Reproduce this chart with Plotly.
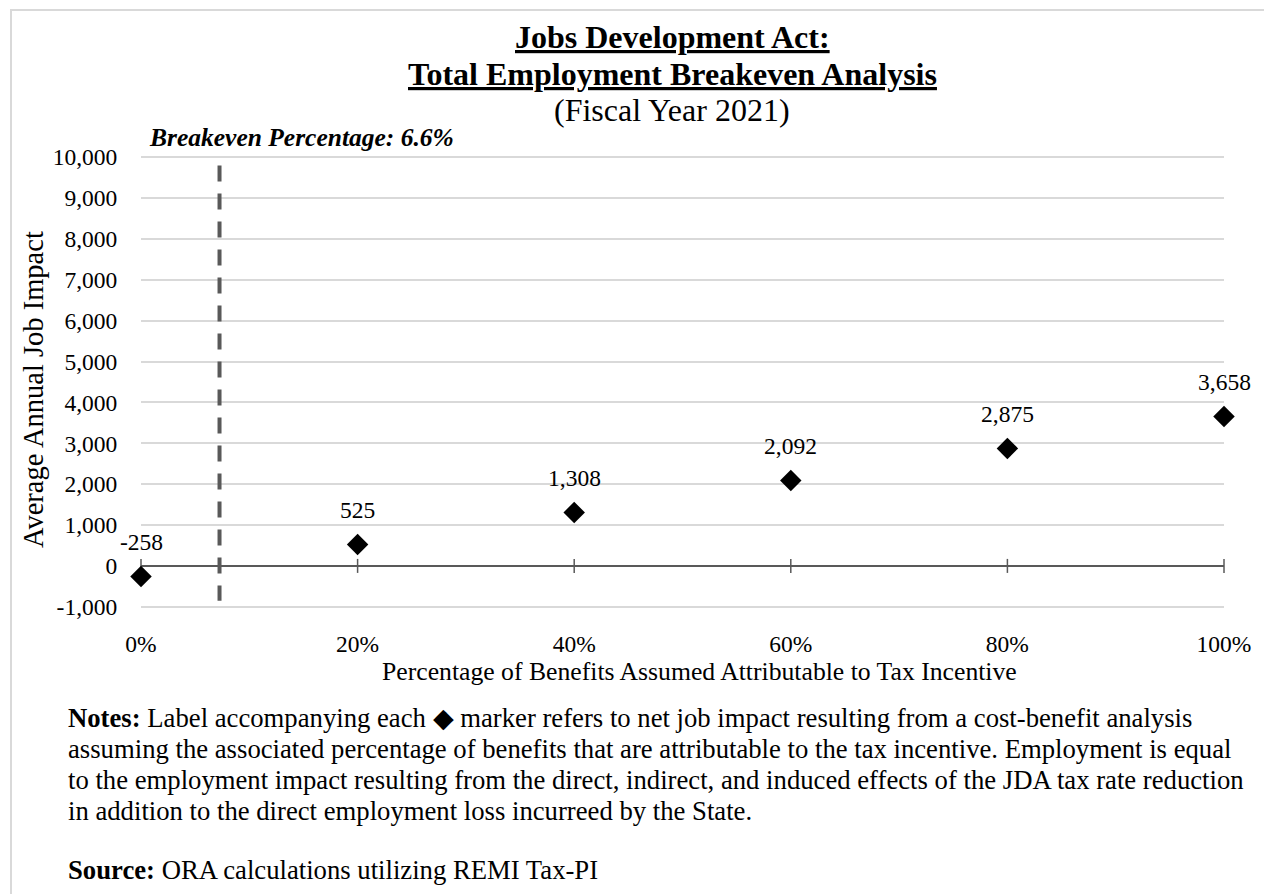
import plotly.graph_objects as go

# ---- data ----
pct_benefits = [0.0, 0.2, 0.4, 0.6, 0.8, 1.0]
job_impact = [-258, 525, 1308, 2092, 2875, 3658]
breakeven_x = 0.0725
breakeven_line_y = [9800, -850]
y_ticks = list(range(-1000, 10001, 1000))
y_ticklabels = [f"{v:,}" for v in y_ticks]
x_ticks = [0.0, 0.2, 0.4, 0.6, 0.8, 1.0]
x_ticklabels = ["0%", "20%", "40%", "60%", "80%", "100%"]

title_lines = ["<b><u>Jobs Development Act:</u></b>",
               "<b><u>Total Employment Breakeven Analysis</u></b>",
               "(Fiscal Year 2021)"]
breakeven_label = "<b><i>Breakeven Percentage: 6.6%</i></b>"
x_title = "Percentage of Benefits Assumed Attributable to Tax Incentive"
y_title = "Average Annual Job Impact"
note_lines = [
    "<b>Notes:</b> Label accompanying each \u25C6 marker refers to net job impact resulting from a cost-benefit analysis",
    "assuming the associated percentage of benefits that are attributable to the tax incentive. Employment is equal",
    "to the employment impact resulting from the direct, indirect, and induced effects of the JDA tax rate reduction",
    "in addition to the direct employment loss incurreed by the State.",
]
source_line = "<b>Source:</b> ORA calculations utilizing REMI Tax-PI"

FONT = "Liberation Serif, Times New Roman, serif"
W, H = 1264, 894
L, R, T, B = 141, 40, 156, 286
pw, ph = W - L - R, H - T - B


def px(x):
    return (x - L) / pw


def py(y):
    return (H - B - y) / ph


fig = go.Figure()

# breakeven dashed line
fig.add_trace(go.Scatter(
    x=[breakeven_x, breakeven_x], y=breakeven_line_y, mode="lines",
    line=dict(color="#595959", width=4, dash="16px,12px"), hoverinfo="skip"))

# tick marks crossing the zero line
fig.add_trace(go.Scatter(
    x=x_ticks, y=[0] * len(x_ticks), mode="markers", cliponaxis=False,
    marker=dict(symbol="line-ns-open", size=10, color="#595959",
                line=dict(color="#595959", width=1.5)),
    hoverinfo="skip"))

# data markers
fig.add_trace(go.Scatter(
    x=pct_benefits, y=job_impact, mode="markers", cliponaxis=False,
    marker=dict(symbol="diamond", size=16.5, color="black", line=dict(width=0))))

annotations = []
for xv, yv in zip(pct_benefits, job_impact):
    annotations.append(dict(x=xv, y=yv, xref="x", yref="y", text=f"{yv:,}",
                            showarrow=False, yshift=34, xanchor="center", yanchor="middle",
                            font=dict(family=FONT, size=23.5, color="black")))

title_y = [37, 74, 110]
for txt, yy in zip(title_lines, title_y):
    annotations.append(dict(x=px(672), y=py(yy), xref="paper", yref="paper", text=txt,
                            showarrow=False, xanchor="center", yanchor="middle",
                            font=dict(family=FONT, size=32, color="black")))

annotations.append(dict(x=px(147), y=py(137), xref="paper", yref="paper", text=breakeven_label,
                        showarrow=False, xanchor="left", yanchor="middle",
                        font=dict(family=FONT, size=25.5, color="black")))

note_y = [718, 749, 780, 811]
for txt, yy in zip(note_lines, note_y):
    annotations.append(dict(x=px(66), y=py(yy), xref="paper", yref="paper", text=txt,
                            showarrow=False, xanchor="left", yanchor="middle",
                            font=dict(family=FONT, size=26.7, color="black")))
annotations.append(dict(x=px(66), y=py(870), xref="paper", yref="paper", text=source_line,
                        showarrow=False, xanchor="left", yanchor="middle",
                        font=dict(family=FONT, size=26.7, color="black")))

# axis titles as annotations for precise placement
annotations.append(dict(x=px(699), y=py(671), xref="paper", yref="paper", text=x_title,
                        showarrow=False, xanchor="center", yanchor="middle",
                        font=dict(family=FONT, size=25.7, color="black")))
annotations.append(dict(x=px(33), y=py(390), xref="paper", yref="paper", text=y_title,
                        showarrow=False, xanchor="center", yanchor="middle", textangle=-90,
                        font=dict(family=FONT, size=28.5, color="black")))

shapes = [dict(type="rect", xref="paper", yref="paper",
               x0=px(11), y0=py(H + 10), x1=px(W + 10), y1=py(10),
               line=dict(color="#d9d9d9", width=2), fillcolor="rgba(0,0,0,0)", layer="below")]

fig.update_layout(
    width=W, height=H,
    margin=dict(l=L, r=R, t=T, b=B, pad=0),
    paper_bgcolor="white", plot_bgcolor="white",
    showlegend=False,
    annotations=annotations,
    shapes=shapes,
    font=dict(family=FONT, size=23.5, color="black"),
    xaxis=dict(range=[0, 1], tickvals=x_ticks, ticktext=x_ticklabels,
               showgrid=False, zeroline=False, showline=False,
               ticks="outside", ticklen=15, tickcolor="rgba(0,0,0,0)",
               tickfont=dict(family=FONT, size=23.5, color="black"), fixedrange=True),
    yaxis=dict(range=[-1030, 10030], tickvals=y_ticks, ticktext=y_ticklabels,
               showgrid=True, gridcolor="#d9d9d9", gridwidth=1.5,
               zeroline=True, zerolinecolor="#595959", zerolinewidth=1.8,
               showline=False, ticks="outside", ticklen=18, tickcolor="rgba(0,0,0,0)",
               tickfont=dict(family=FONT, size=23.5, color="black"), fixedrange=True),
)

fig.write_html("out.html", config={"displayModeBar": False},
               post_script="document.body.style.margin='0px';")
